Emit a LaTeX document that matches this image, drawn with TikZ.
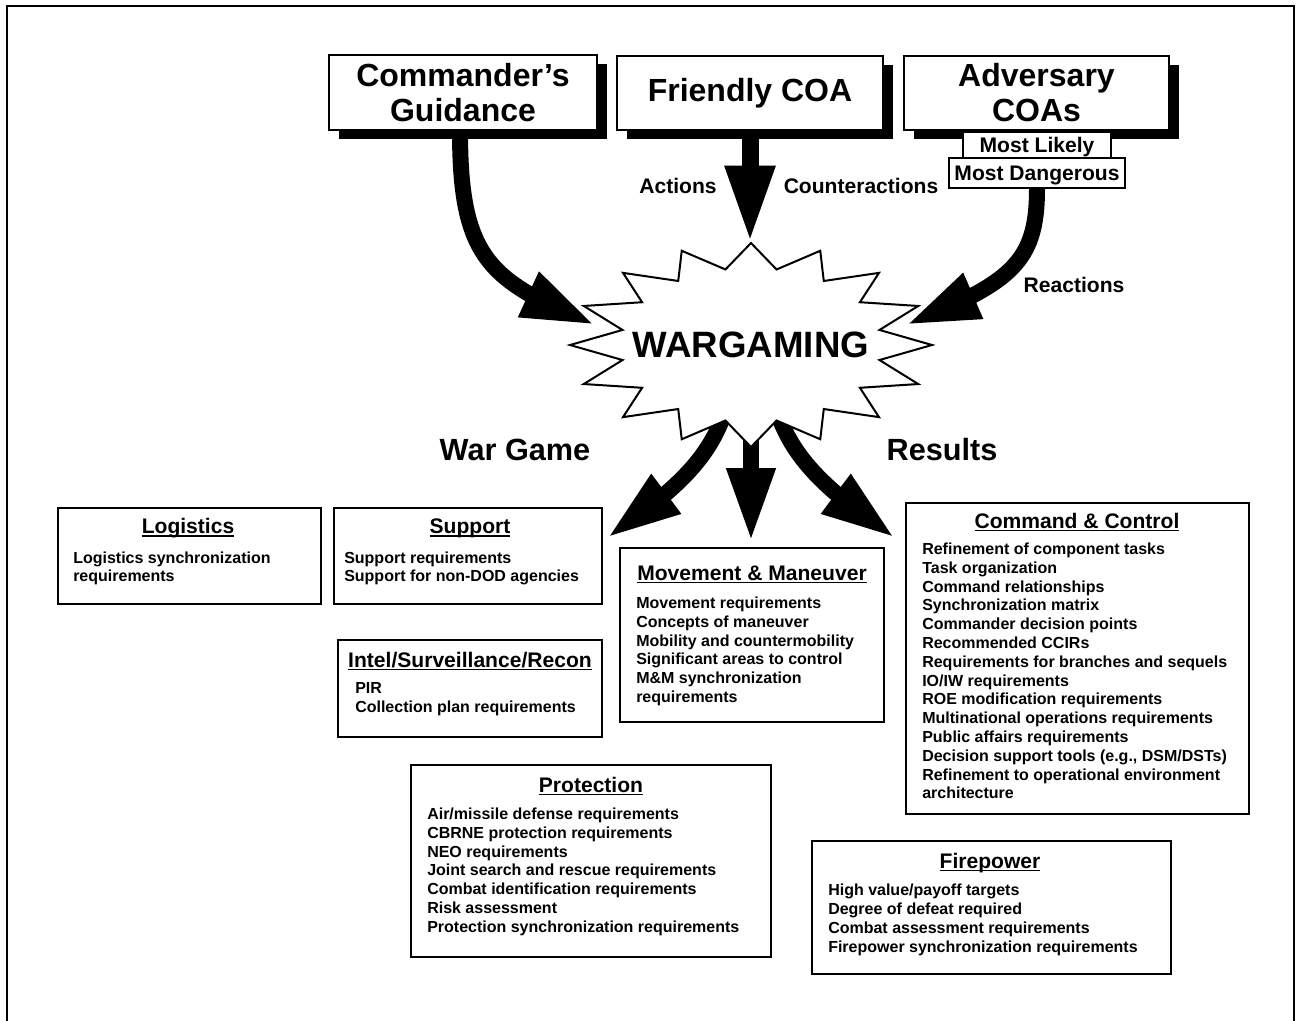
\documentclass[tikz,border=0pt]{standalone}
\usepackage{fontspec}
\setmainfont{Liberation Sans}
\usetikzlibrary{arrows.meta,bending,shadows,backgrounds}

% underlined heading text
\newcommand{\ulbar}[1]{\setbox0\hbox{#1}\rlap{\rule[-2.4pt]{\wd0}{1.1pt}}\box0}

\tikzset{
  hdr/.style={draw, line width=1.6pt, fill=white, inner sep=0pt, align=center,
    font=\bfseries\fontsize{24}{26.25}\selectfont,
    general shadow={fill=black, shadow xshift=7.5pt, shadow yshift=-6.75pt}},
  tag/.style={draw, line width=1.4pt, fill=white, inner sep=0pt, text depth=0pt,
    font=\bfseries\fontsize{15.8}{18}\selectfont},
  panel/.style={draw, line width=1.5pt, fill=white, inner sep=0pt, anchor=north west},
  ttl/.style={anchor=base, inner sep=0pt, font=\bfseries\fontsize{15.8}{18}\selectfont},
  body/.style={anchor=north west, inner sep=0pt, align=left,
    font=\bfseries\fontsize{12}{14.1}\selectfont},
  lbl/.style={inner sep=0pt, font=\bfseries\fontsize{15.8}{18}\selectfont},
  big/.style={inner sep=0pt, font=\bfseries\fontsize{23}{26}\selectfont},
  bentarrow/.style={line width=12pt, -{Triangle[length=55pt,width=34pt]}},
  droparrow/.style={line width=12.75pt, -{Triangle[length=58pt,width=34.5pt]}},
  thinarrow/.style={line width=12pt, -{Triangle[length=55.5pt,width=33.75pt]}},
}

\begin{document}
\begin{tikzpicture}[x=0.75pt,y=-0.75pt]
\useasboundingbox (0,0) rectangle (1296,1021);
\begin{pgfonlayer}{background}
  \fill[white] (0,0) rectangle (1296,1021);
\end{pgfonlayer}

% frame
\draw[line width=2.2pt] (7,1030) -- (7,6) -- (1294,6) -- (1294,1030);

% inputs to the war game
\node[hdr, minimum width=201pt, minimum height=56.25pt] (cg) at (463,92.5) {Commander’s\\Guidance};
\node[hdr, minimum width=199.5pt, minimum height=55.5pt] (fc) at (750,93) {Friendly COA};
\node[hdr, minimum width=198.75pt, minimum height=55.5pt] (ac) at (1036.5,93) {Adversary\\COAs};
\node[tag, minimum width=111pt, minimum height=19.5pt] (ml) at (1037,145) {Most Likely};
\node[tag, minimum width=132pt, minimum height=22.5pt] (md) at (1037,173) {Most Dangerous};

\node[lbl] (act) at (678,186) {Actions};
\node[lbl] (cnt) at (861,186) {Counteractions};
\node[lbl] (rea) at (1074,285) {Reactions};
\node[big] (wg) at (515,450) {War Game};
\node[big] (res) at (942,450) {Results};

% starburst
\draw[line width=1.5pt, fill=white, line join=miter] (932,345)
  \foreach \k in {1,...,15}{
    -- ({751+131*cos(\k*22.5-11.25)},{345-77*sin(\k*22.5-11.25)})
    -- ({751+181*cos(\k*22.5)},{345-102*sin(\k*22.5)})
  } -- ({751+131*cos(348.75)},{345-77*sin(348.75)}) -- cycle;
\node[inner sep=0pt, font=\bfseries\fontsize{27.5}{30}\selectfont] (war) at (751,345) {WARGAMING};

% arrow ends
\coordinate (tipL) at (595,325);
\coordinate (tipT) at (750,243);
\coordinate (tipR) at (906,325);
\coordinate (outL) at (607,538);
\coordinate (outM) at (751,542);
\coordinate (outR) at (895,538);

% result panels
\node[panel, minimum width=197.25pt, minimum height=72pt] (log) at (57,507) {};
\node[ttl] (logT) at (188,533.5) {\ulbar{Logistics}};
\node[body] (logB) at (73,551.3) {Logistics synchronization\\requirements};

\node[panel, minimum width=201pt, minimum height=72pt] (sup) at (333,507) {};
\node[ttl] (supT) at (470,533.5) {\ulbar{Support}};
\node[body] (supB) at (344,551.3) {Support requirements\\Support for non-DOD agencies};

\node[panel, minimum width=198pt, minimum height=72.75pt] (isr) at (337,639) {};
\node[ttl] (isrT) at (470,667) {\ulbar{Intel/Surveillance/Recon}};
\node[body] (isrB) at (355,682.3) {PIR\\Collection plan requirements};

\node[panel, minimum width=198pt, minimum height=130.5pt] (mm) at (619,547) {};
\node[ttl] (mmT) at (752,580) {\ulbar{Movement \& Maneuver}};
\node[body] (mmB) at (636,596.6) {Movement requirements\\Concepts of maneuver\\Mobility and countermobility\\Significant areas to control\\M\&M synchronization\\requirements};

\node[panel, minimum width=257.25pt, minimum height=233.25pt] (cc) at (905,502) {};
\node[ttl] (ccT) at (1077,528) {\ulbar{Command \& Control}};
\node[body] (ccB) at (922,542.6) {Refinement of component tasks\\Task organization\\Command relationships\\Synchronization matrix\\Commander decision points\\Recommended CCIRs\\Requirements for branches and sequels\\IO/IW requirements\\ROE modification requirements\\Multinational operations requirements\\Public affairs requirements\\Decision support tools (e.g., DSM/DSTs)\\Refinement to operational environment\\architecture};

\node[panel, minimum width=270pt, minimum height=144pt] (pro) at (410,764) {};
\node[ttl] (proT) at (591,792) {\ulbar{Protection}};
\node[body] (proB) at (427,807.6) {Air/missile defense requirements\\CBRNE protection requirements\\NEO requirements\\Joint search and rescue requirements\\Combat identification requirements\\Risk assessment\\Protection synchronization requirements};

\node[panel, minimum width=269.25pt, minimum height=99.75pt] (fp) at (811,840) {};
\node[ttl] (fpT) at (990,868) {\ulbar{Firepower}};
\node[body] (fpB) at (828,884) {High value/payoff targets\\Degree of defeat required\\Combat assessment requirements\\Firepower synchronization requirements};

% connectors, kept beneath boxes and starburst
\begin{pgfonlayer}{background}
  \draw[bentarrow] ([xshift=-2.25pt]cg.south) .. controls (460,260) and (490,281) .. (tipL);
  \draw[droparrow] (fc.south) -- (tipT);
  \draw[bentarrow] (md.south) .. controls (1037,262) and (1012,283) .. (tipR);
  \draw[thinarrow] ([xshift=-12pt]war.south) .. controls (728,445) and (690,480) .. (outL);
  \draw[thinarrow] (war.south) -- (outM);
  \draw[thinarrow] ([xshift=12pt]war.south) .. controls (774,445) and (812,480) .. (outR);
\end{pgfonlayer}
\end{tikzpicture}
\end{document}
